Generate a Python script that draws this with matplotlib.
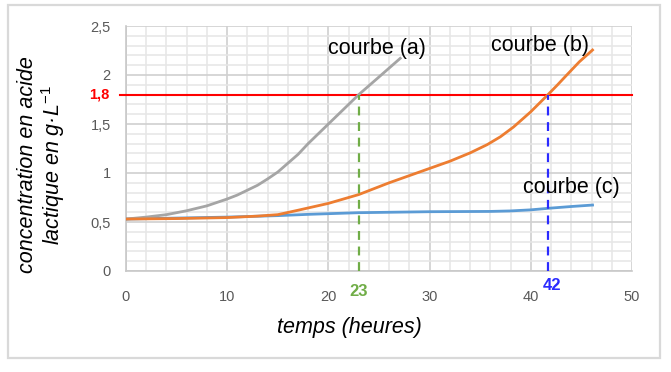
"""Lactic acid concentration curves (a), (b), (c) vs time."""
import matplotlib
matplotlib.use('Agg')
import matplotlib.pyplot as plt
from matplotlib.patches import Rectangle
from matplotlib.ticker import MultipleLocator, FuncFormatter

plt.rcParams['font.family'] = ['Liberation Sans', 'DejaVu Sans']
plt.rcParams['mathtext.fontset'] = 'custom'
plt.rcParams['mathtext.rm'] = 'Liberation Sans'
plt.rcParams['mathtext.it'] = 'Liberation Sans:italic'
plt.rcParams['mathtext.default'] = 'it'

# ---- data ----
t_a = [0, 2, 4, 6, 8, 10, 11, 12, 13, 14, 15, 16, 17, 18, 19, 20, 22, 23,
       25, 27.1]
c_a = [0.53, 0.55, 0.575, 0.615, 0.665, 0.735, 0.775, 0.825, 0.875, 0.94,
       1.01, 1.10, 1.19, 1.30, 1.40, 1.50, 1.70, 1.80, 1.98, 2.17]

t_b = [0, 5, 10, 13, 15, 17, 20, 23, 26, 29, 32, 34, 35.7, 37, 38.3,
       40, 41.7, 42.6, 43.6, 44.8, 46.1]
c_b = [0.53, 0.535, 0.545, 0.56, 0.575, 0.62, 0.69, 0.78, 0.90, 1.01,
       1.12, 1.205, 1.29, 1.37, 1.47, 1.625, 1.80, 1.895, 2.005, 2.135, 2.255]

t_c = [0, 5, 10, 15, 18, 23, 30, 36, 38, 40, 42, 44, 46.1]
c_c = [0.53, 0.54, 0.55, 0.565, 0.578, 0.595, 0.605, 0.608, 0.613, 0.624,
       0.642, 0.658, 0.673]

THRESH = 1.8
cross_t = [23, 41.7]
cross_labels = ['23', '42']
cross_colors = ['#70ad47', '#2b2bff']

GRAY = '#a5a5a5'
ORANGE = '#ed7d31'
BLUE = '#5b9bd5'
RED = '#ff0000'
TICK = '#595959'

fig = plt.figure(figsize=(6.71, 3.72), dpi=100)
fig.patch.set_facecolor('white')
ax = fig.add_axes([126 / 671, 1 - 271 / 372, 506 / 671, 245 / 372])

# outer frame
fig.patches.append(Rectangle((8 / 671, 1 - 358 / 372), 652 / 671, 353 / 372,
                             transform=fig.transFigure, fill=False,
                             edgecolor='#d9d9d9', linewidth=1.6))

ax.set_xlim(0, 50)
ax.set_ylim(0, 2.5)
ax.xaxis.set_major_locator(MultipleLocator(10))
ax.xaxis.set_minor_locator(MultipleLocator(2))
ax.yaxis.set_major_locator(MultipleLocator(0.5))
ax.yaxis.set_minor_locator(MultipleLocator(0.1))
ax.grid(which='minor', color='#e6e6e6', linewidth=1.1)
ax.grid(which='major', color='#d0d0d0', linewidth=1.2)
ax.set_axisbelow(True)
for s in ['top', 'right']:
    ax.spines[s].set_visible(False)
for s in ['left', 'bottom']:
    ax.spines[s].set_color('#c8c8c8')
    ax.spines[s].set_linewidth(1.2)

fmt = FuncFormatter(lambda v, p: ('%g' % v).replace('.', ','))
ax.yaxis.set_major_formatter(fmt)
ax.xaxis.set_major_formatter(fmt)
ax.tick_params(which='both', length=0)
ax.tick_params(axis='y', pad=11, labelsize=10.5, labelcolor=TICK)
ax.tick_params(axis='x', pad=14, labelsize=10.5, labelcolor=TICK)

# threshold line
ax.plot([-0.6, 50], [THRESH, THRESH], color=RED, lw=1.5, clip_on=False, zorder=3)
ax.text(-2.6, THRESH, '1,8', color=RED, fontsize=10.5, fontweight='bold',
        ha='center', va='center')

# curves
ax.plot(t_c, c_c, color=BLUE, lw=2.0, zorder=4)
ax.plot(t_b, c_b, color=ORANGE, lw=2.0, zorder=5)
ax.plot(t_a, c_a, color=GRAY, lw=2.0, zorder=4)

# dashed crossing lines and labels
label_y = [-0.21, -0.15]
for tx, lab, col, ly in zip(cross_t, cross_labels, cross_colors, label_y):
    ax.plot([tx, tx], [0, THRESH], color=col, lw=1.6, ls=(0, (4, 3)),
            clip_on=False, zorder=6)
    ax.text(tx + (0.4 if lab == '42' else 0.0), ly, lab, color=col,
            fontsize=12, fontweight='bold', ha='center', va='center')

# curve names
ax.text(24.8, 2.27, 'courbe (a)', fontsize=15.5, ha='center', va='center',
        color='black', zorder=7)
ax.text(40.9, 2.30, 'courbe (b)', fontsize=15.5, ha='center', va='center',
        color='black', zorder=7)
ax.text(44.0, 0.85, 'courbe (c)', fontsize=15.5, ha='center', va='center',
        color='black', zorder=7)

# axis titles
fig.text(349 / 671, 1 - 328 / 372, 'temps (heures)', fontsize=15.5,
         style='italic', ha='center', va='center')
fig.text(42 / 671, 1 - 165 / 372,
         'concentration en acide\nlactique en g\u00b7L$^{-1}$',
         fontsize=15.5, style='italic', rotation=90, ha='center',
         va='center', linespacing=1.05)

fig.savefig('out.png', dpi=100, facecolor='white')
